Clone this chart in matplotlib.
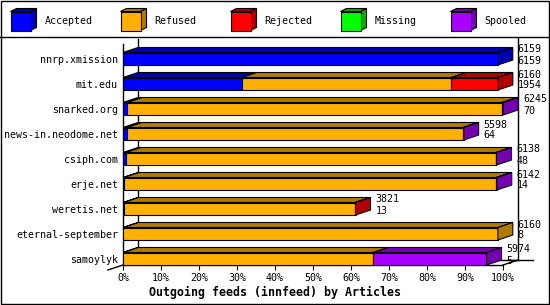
import matplotlib
matplotlib.use('agg')
import matplotlib.pyplot as plt
import matplotlib.colors as mcolors
from matplotlib.patches import Polygon, Rectangle
import numpy as np

# data (article counts per outgoing feed)
feeds = ["nnrp.xmission", "mit.edu", "snarked.org", "news-in.neodome.net", "csiph.com",
         "erje.net", "weretis.net", "eternal-september", "samoylyk"]
totals = [6159, 6160, 6245, 5598, 6138, 6142, 3821, 6160, 5974]
accepted = [6159, 1954, 70, 64, 48, 14, 13, 8, 5]
refused = [0, 3440, 6155, 5524, 6080, 6118, 3800, 6152, 4104]
rejected = [0, 766, 0, 0, 0, 0, 8, 0, 0]
missing = [0, 0, 0, 0, 0, 0, 0, 0, 0]
spooled = [0, 0, 20, 10, 10, 10, 0, 0, 1865]

series_names = ["Accepted", "Refused", "Rejected", "Missing", "Spooled"]
series_colors = ["#0000ff", "#ffb000", "#ff0000", "#00ff00", "#aa00ff"]
x_ticks = np.arange(0, 101, 10)
x_title = "Outgoing feeds (innfeed) by Articles"

W, H, DPI = 550, 305, 100
FONT = "DejaVu Sans Mono"
FS = 7.2


def shade(c, f=0.69):
    r, g, b = mcolors.to_rgb(c)
    return (r * f, g * f, b * f)


fig = plt.figure(figsize=(W / DPI, H / DPI), dpi=DPI)

# frame + legend, in pixel coords
bg = fig.add_axes([0, 0, 1, 1])
bg.set_xlim(0, W)
bg.set_ylim(H, 0)
bg.axis('off')
bg.add_patch(Rectangle((0.5, 0.5), W - 1.5, H - 1.5, fill=False, ec='black', lw=1.0))
bg.plot([0, W], [37, 37], color='black', lw=1.0)

for k, (name, col) in enumerate(zip(series_names, series_colors)):
    x0, y0, s, d = 10.5 + 110 * k, 11.5, 20, 6
    top = [(x0, y0), (x0 + d, y0 - 3), (x0 + s + d, y0 - 3), (x0 + s, y0)]
    side = [(x0 + s, y0), (x0 + s + d, y0 - 3), (x0 + s + d, y0 + s - 4), (x0 + s, y0 + s - 1)]
    bg.add_patch(Polygon(top, closed=True, fc=shade(col), ec='black', lw=0.8))
    bg.add_patch(Polygon(side, closed=True, fc=shade(col), ec='black', lw=0.8))
    bg.add_patch(Rectangle((x0, y0), s, s - 1, fc=col, ec='black', lw=0.8))
    bg.text(x0 + 34, 21, name, family=FONT, fontsize=FS, va='center', ha='left')

# main plot area: 0..100% between x=123 and 503 px, rows 25 px apart
ax = fig.add_axes([123 / W, (H - 265) / H, 380 / W, (265 - 44) / H])
ax.set_xlim(0, 100)
ax.set_ylim(8.25, 8.25 - 221 / 25)
for sp in ["top", "right"]:
    ax.spines[sp].set_visible(False)
ax.spines["left"].set_linewidth(1.0)
ax.spines["bottom"].set_linewidth(1.0)

dx = 15 / 3.8   # depth in percent
dy = 5 / 25     # depth in rows
bh = 0.5
vmax = max(totals)

# back wall / floor
ax.plot([dx, dx], [-0.78, 8.05], color='black', lw=1.0, zorder=0, clip_on=False)
ax.plot([dx, 100 + dx], [8.05, 8.05], color='black', lw=1.0, zorder=0, clip_on=False)
ax.plot([100 + dx, 100 + dx], [-0.82, 8.05], color='black', lw=1.0, zorder=0, clip_on=False)
ax.plot([100 + dx - 2.5, 100 + dx + 4], [8.05, 8.05], color='black', lw=1.0, clip_on=False)
ax.plot([100, 100 + dx], [8.25, 8.05], color='black', lw=1.0, clip_on=False)
ax.plot([-dx, 0], [8.45, 8.25], color='black', lw=1.0, clip_on=False)

series = [accepted, refused, rejected, missing, spooled]
for i, feed in enumerate(feeds):
    left = 0.0
    last = None
    for vals, col in zip(series, series_colors):
        w = vals[i] / vmax * 100
        if w <= 0:
            continue
        ax.barh(i, w, left=left, height=bh, color=col, edgecolor='black', lw=0.8, zorder=3)
        yt = i - bh / 2
        top = [(left, yt), (left + dx, yt - dy), (left + w + dx, yt - dy), (left + w, yt)]
        ax.add_patch(Polygon(top, closed=True, fc=shade(col), ec='black', lw=0.8, zorder=3,
                             clip_on=False))
        left += w
        last = col
    yt, yb = i - bh / 2, i + bh / 2
    side = [(left, yt), (left + dx, yt - dy), (left + dx, yb - dy), (left, yb)]
    ax.add_patch(Polygon(side, closed=True, fc=shade(last), ec='black', lw=0.8, zorder=3,
                         clip_on=False))
    xl = left + dx + 5 / 3.8
    ax.text(xl, yt - 0.12, str(totals[i]), family=FONT, fontsize=FS, va='center', ha='left',
            zorder=5, clip_on=False)
    ax.text(xl, yt + 0.32, str(accepted[i]), family=FONT, fontsize=FS, va='center', ha='left',
            zorder=5, clip_on=False)

ax.set_xticks(x_ticks)
ax.set_xticklabels([f"{t}%" for t in x_ticks], family=FONT, fontsize=FS)
ax.set_yticks(range(len(feeds)))
ax.set_yticklabels(feeds, family=FONT, fontsize=FS)
ax.tick_params(axis='x', direction='out', length=3.6, width=0.8, pad=2)
ax.tick_params(axis='y', length=0, pad=3.6)
ax.patch.set_alpha(0)

fig.text(275 / W, 1 - 292 / H, x_title, family=FONT, fontsize=8.4, fontweight='bold',
         ha='center', va='center')

fig.savefig("out.png", dpi=DPI)
